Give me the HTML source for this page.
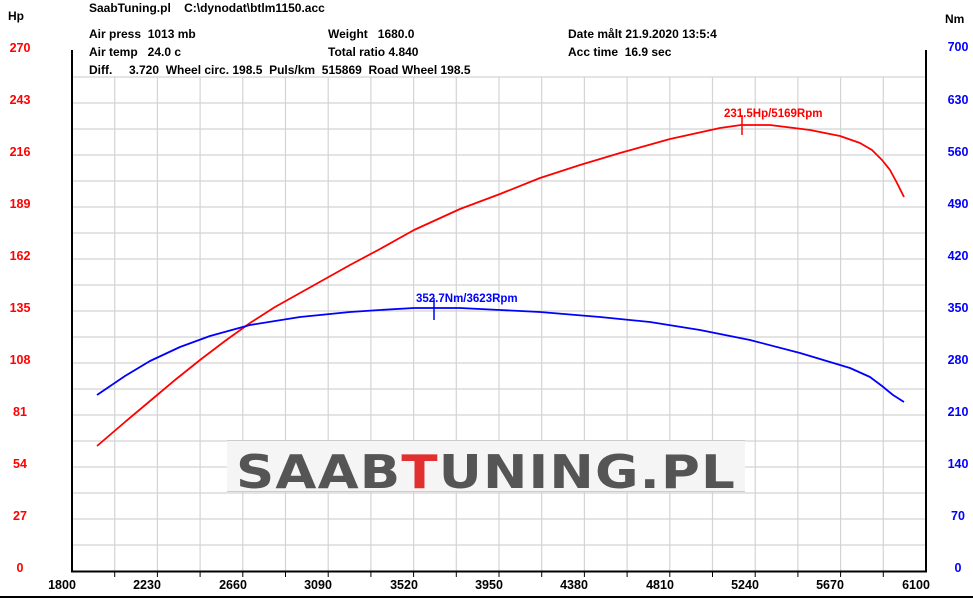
<!DOCTYPE html>
<html><head><meta charset="utf-8"><style>
html,body{margin:0;padding:0;background:#fff;}
svg{display:block;font-family:"Liberation Sans",sans-serif;font-weight:bold;}
</style></head><body>
<svg width="973" height="598" viewBox="0 0 973 598" xmlns="http://www.w3.org/2000/svg">
<rect width="973" height="598" fill="#fff"/>
<g stroke="#d4d4d4" stroke-width="1.2">
<line x1="72" y1="77" x2="926" y2="77"/><line x1="72" y1="103" x2="926" y2="103"/><line x1="72" y1="129" x2="926" y2="129"/><line x1="72" y1="155" x2="926" y2="155"/><line x1="72" y1="181" x2="926" y2="181"/><line x1="72" y1="207" x2="926" y2="207"/><line x1="72" y1="233" x2="926" y2="233"/><line x1="72" y1="259" x2="926" y2="259"/><line x1="72" y1="285" x2="926" y2="285"/><line x1="72" y1="311" x2="926" y2="311"/><line x1="72" y1="337" x2="926" y2="337"/><line x1="72" y1="363" x2="926" y2="363"/><line x1="72" y1="389" x2="926" y2="389"/><line x1="72" y1="415" x2="926" y2="415"/><line x1="72" y1="441" x2="926" y2="441"/><line x1="72" y1="467" x2="926" y2="467"/><line x1="72" y1="493" x2="926" y2="493"/><line x1="72" y1="519" x2="926" y2="519"/><line x1="72" y1="545" x2="926" y2="545"/>
<line x1="114.7" y1="77" x2="114.7" y2="571"/><line x1="157.4" y1="77" x2="157.4" y2="571"/><line x1="200.1" y1="77" x2="200.1" y2="571"/><line x1="242.8" y1="77" x2="242.8" y2="571"/><line x1="285.5" y1="77" x2="285.5" y2="571"/><line x1="328.2" y1="77" x2="328.2" y2="571"/><line x1="370.9" y1="77" x2="370.9" y2="571"/><line x1="413.6" y1="77" x2="413.6" y2="571"/><line x1="456.3" y1="77" x2="456.3" y2="571"/><line x1="499" y1="77" x2="499" y2="571"/><line x1="541.7" y1="77" x2="541.7" y2="571"/><line x1="584.4" y1="77" x2="584.4" y2="571"/><line x1="627.1" y1="77" x2="627.1" y2="571"/><line x1="669.8" y1="77" x2="669.8" y2="571"/><line x1="712.5" y1="77" x2="712.5" y2="571"/><line x1="755.2" y1="77" x2="755.2" y2="571"/><line x1="797.9" y1="77" x2="797.9" y2="571"/><line x1="840.6" y1="77" x2="840.6" y2="571"/><line x1="883.3" y1="77" x2="883.3" y2="571"/>
</g>
<rect x="227" y="440" width="518" height="52" fill="#f5f5f5"/>
<line x1="227" y1="440.5" x2="745" y2="440.5" stroke="#ccc"/><line x1="227" y1="491.5" x2="745" y2="491.5" stroke="#ccc"/>
<text x="236" y="488" font-family="'DejaVu Sans',sans-serif" font-weight="900" font-size="46" fill="#555" letter-spacing="1" textLength="500" lengthAdjust="spacingAndGlyphs">SAAB<tspan fill="#e03030">T</tspan>UNING.PL</text>
<g stroke="#000" stroke-width="2" fill="none">
<line x1="72" y1="50" x2="72" y2="572"/><line x1="926" y1="50" x2="926" y2="572"/><line x1="71" y1="571.5" x2="927" y2="571.5"/>
<line x1="0" y1="597" x2="973" y2="597"/>
</g>
<g stroke="#000" stroke-width="1">
<line x1="114.7" y1="571" x2="114.7" y2="577"/><line x1="157.4" y1="571" x2="157.4" y2="577"/><line x1="200.1" y1="571" x2="200.1" y2="577"/><line x1="242.8" y1="571" x2="242.8" y2="577"/><line x1="285.5" y1="571" x2="285.5" y2="577"/><line x1="328.2" y1="571" x2="328.2" y2="577"/><line x1="370.9" y1="571" x2="370.9" y2="577"/><line x1="413.6" y1="571" x2="413.6" y2="577"/><line x1="456.3" y1="571" x2="456.3" y2="577"/><line x1="499" y1="571" x2="499" y2="577"/><line x1="541.7" y1="571" x2="541.7" y2="577"/><line x1="584.4" y1="571" x2="584.4" y2="577"/><line x1="627.1" y1="571" x2="627.1" y2="577"/><line x1="669.8" y1="571" x2="669.8" y2="577"/><line x1="712.5" y1="571" x2="712.5" y2="577"/><line x1="755.2" y1="571" x2="755.2" y2="577"/><line x1="797.9" y1="571" x2="797.9" y2="577"/><line x1="840.6" y1="571" x2="840.6" y2="577"/><line x1="883.3" y1="571" x2="883.3" y2="577"/>
</g>
<polyline fill="none" stroke="#ff0000" stroke-width="1.8" stroke-linejoin="round" points="97,446 125,422 150,401 175,380 200,360 225,341 250,323 275,307 300,293 325,279 350,265 380,249 414,230 460,209 500,194 540,178 580,165 620,153 670,139 720,128 741,125 770,125 810,130 840,136 860,143 872,150 882,160 890,170 897,183 904,197"/>
<polyline fill="none" stroke="#0000ff" stroke-width="1.8" stroke-linejoin="round" points="97,395 125,376 150,361 180,347 210,336 250,325 300,317 350,312 380,310 414,308 434,308 460,308 500,310 540,312 600,317 650,322 700,330 750,340 800,353 850,368 870,377 882,386 893,395 904,402"/>
<line x1="742" y1="115" x2="742" y2="135" stroke="#ff0000" stroke-width="1.5"/>
<line x1="434" y1="298" x2="434" y2="320" stroke="#0000ff" stroke-width="1.5"/>
<g font-size="11.5">
<text x="724" y="117" fill="#ff0000">231.5Hp/5169Rpm</text>
<text x="416" y="302" fill="#0000ff">352.7Nm/3623Rpm</text>
</g>
<g font-size="12" fill="#000">
<text x="89" y="12">SaabTuning.pl &#160;&#160;&#160;C:\dynodat\btlm1150.acc</text>
<text x="89" y="38">Air press &#160;1013 mb</text>
<text x="89" y="56">Air temp &#160;&#160;24.0 c</text>
<text x="89" y="74">Diff. &#160;&#160;&#160;&#160;3.720 &#160;Wheel circ. 198.5 &#160;Puls/km &#160;515869 &#160;Road Wheel 198.5</text>
<text x="328" y="38">Weight &#160;&#160;1680.0</text>
<text x="328" y="56">Total ratio 4.840</text>
<text x="568" y="38">Date målt 21.9.2020 13:5:4</text>
<text x="568" y="56">Acc time &#160;16.9 sec</text>
<text x="8" y="20">Hp</text>
<text x="945" y="23">Nm</text>
</g>
<g font-size="12.5" fill="#ff0000" text-anchor="middle">
<text x="20" y="52">270</text><text x="20" y="104">243</text><text x="20" y="156">216</text><text x="20" y="208">189</text><text x="20" y="260">162</text><text x="20" y="312">135</text><text x="20" y="364">108</text><text x="20" y="416">81</text><text x="20" y="468">54</text><text x="20" y="520">27</text><text x="20" y="572">0</text>
</g>
<g font-size="12.5" fill="#0000ff" text-anchor="middle">
<text x="958" y="51">700</text><text x="958" y="104">630</text><text x="958" y="156">560</text><text x="958" y="208">490</text><text x="958" y="260">420</text><text x="958" y="312">350</text><text x="958" y="364">280</text><text x="958" y="416">210</text><text x="958" y="468">140</text><text x="958" y="520">70</text><text x="958" y="572">0</text>
</g>
<g font-size="12.5" fill="#000" text-anchor="middle">
<text x="62" y="589">1800</text><text x="147" y="589">2230</text><text x="233" y="589">2660</text><text x="318" y="589">3090</text><text x="404" y="589">3520</text><text x="489" y="589">3950</text><text x="574" y="589">4380</text><text x="660" y="589">4810</text><text x="745" y="589">5240</text><text x="830" y="589">5670</text><text x="916" y="589">6100</text>
</g>
</svg>
</body></html>
